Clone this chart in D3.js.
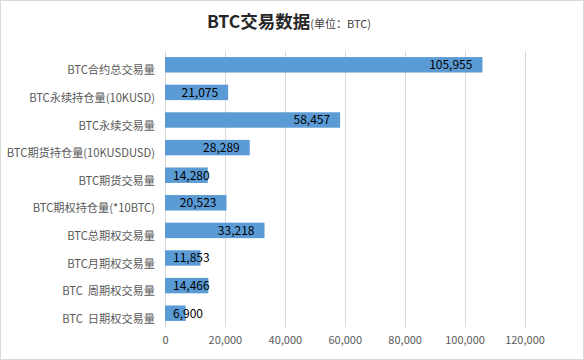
<!DOCTYPE html>
<html><head><meta charset="utf-8">
<script src="https://cdn.jsdelivr.net/npm/d3@7"></script>
<style>body{margin:0;background:#fff}svg{display:block}</style>
</head><body>
<svg id="c" width="584" height="360"></svg>
<script>
const categories = ["BTC合约总交易量","BTC永续持仓量(10KUSD)","BTC永续交易量","BTC期货持仓量(10KUSDUSD)","BTC期货交易量","BTC期权持仓量(*10BTC)","BTC总期权交易量","BTC月期权交易量","BTC  周期权交易量","BTC  日期权交易量"];
const values = [105955,21075,58457,28289,14280,20523,33218,11853,14466,6900];
const ticks = [0,20000,40000,60000,80000,100000,120000];
const title = "BTC交易数据";
const subtitle = "(单位：BTC)";

const svg = d3.select("#c");
const font = "'Noto Sans CJK SC','Microsoft YaHei',sans-serif";
svg.append("rect").attr("x",0.5).attr("y",0.5).attr("width",583).attr("height",359)
  .attr("fill","#fff").attr("stroke","#d9d9d9");

const L=165, R=524.5, T=51, B=327;
const x = d3.scaleLinear().domain([0,120000]).range([L,R]);
const y = d3.scaleBand().domain(categories).range([T,B]).paddingInner(0.44).paddingOuter(0.22);

// gridlines
svg.append("g").selectAll("line").data(ticks.slice(1)).join("line")
  .attr("x1",d=>Math.round(x(d))+0.5).attr("x2",d=>Math.round(x(d))+0.5)
  .attr("y1",T).attr("y2",B).attr("stroke","#d9d9d9").attr("stroke-width",1);

// x axis labels
const xa = svg.append("g").attr("transform",`translate(0,${B})`)
  .call(d3.axisBottom(x).tickValues(ticks).tickSize(0).tickPadding(9).tickFormat(d3.format(",")));
xa.select(".domain").remove();
xa.selectAll("text").attr("fill","#595959").style("font-family",font).style("font-size","11px");

// y axis
const ya = svg.append("g").attr("transform",`translate(${L},0)`)
  .call(d3.axisLeft(y).tickSize(0).tickPadding(10));
ya.select(".domain").attr("stroke","#d9d9d9").attr("d",`M0.5,${T}V${B}`);
ya.selectAll(".tick text").attr("fill","#595959").attr("y",6)
  .style("font-family",font).style("font-size","11.2px")
  .style("white-space","pre").attr("xml:space","preserve");

// bars
svg.append("g").selectAll("rect").data(values).join("rect")
  .attr("x",x(0)).attr("y",(d,i)=>y(categories[i]))
  .attr("width",d=>x(d)-x(0)).attr("height",y.bandwidth()).attr("fill","#5b9bd5");

// value labels
const fmt = d3.format(",");
const lbl = svg.append("g").selectAll("text").data(values).join("text")
  .attr("y",(d,i)=>y(categories[i])+y.bandwidth()/2)
  .attr("dy","0.36em").attr("fill","#000")
  .style("font-family",font).style("font-size","12px")
  .text(d=>fmt(d));
lbl.each(function(d){
  const w=this.getComputedTextLength();
  const s=Math.max(x(d)-10-w, x(0)+8);
  d3.select(this).attr("x",s);
});

// title
const t = svg.append("text").attr("x",207).attr("y",28);
t.append("tspan").text(title).style("font-family","'Noto Sans CJK SC',sans-serif")
  .style("font-weight","bold").style("font-size","17.5px").attr("fill","#262626");
t.append("tspan").text(subtitle).style("font-family",font)
  .style("font-size","11px").attr("fill","#404040");
</script>
</body></html>
